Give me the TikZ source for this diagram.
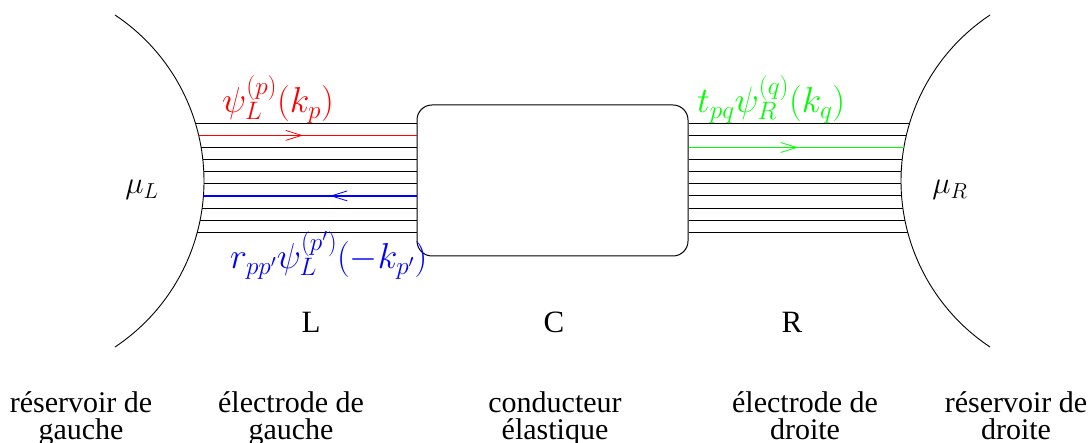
\RequirePackage{fix-cm}
\documentclass[tikz,border=0pt]{standalone}
\usepackage{fontspec}
\setmainfont{Liberation Serif}
\usetikzlibrary{arrows.meta,calc}

\begin{document}
\begin{tikzpicture}[
  x=1pt,
  y=-1pt,
  font=\fontsize{31}{27}\selectfont,
  every node/.style={inner sep=0pt},
  wire/.style={draw=black, line width=0.9pt},
  barb/.style={-{Straight Barb[length=16pt,width=10pt,line width=0.8pt]}},
  wave/.style={anchor=base west, font=\fontsize{36}{36}\selectfont},
  caption/.style={align=center, anchor=north, font=\fontsize{30}{27}\selectfont}
]
  \useasboundingbox (0,0) rectangle (1090,443);

  % reservoirs
  \draw[wire] (4.7,181) ++(56.4:199.3) arc[start angle=56.4, end angle=-56.4, radius=199.3];
  \draw[wire] (1100.3,181) ++(123.6:199.3) arc[start angle=123.6, end angle=236.4, radius=199.3];

  % conductor
  \node[draw, line width=1pt, rounded corners=15pt, minimum width=271pt, minimum height=151pt] (cond) at (552.5,180.5) {};

  % electrode channels
  \foreach \i in {0,...,9} {
    \pgfmathsetmacro\yy{123.3+12.1*\i}
    \pgfmathsetmacro\dx{100*sqrt(1.993^2-((\yy-181)/100)^2)}
    \coordinate (l\i) at ({4.7+\dx},\yy);
    \coordinate (r\i) at ({1100.3-\dx},\yy);
  }
  \foreach \i in {0,2,3,4,5,7,8,9}
    \draw[wire] (l\i) -- (l\i -| cond.west);
  \foreach \i in {0,1,3,4,5,6,7,8,9}
    \draw[wire] (r\i -| cond.east) -- (r\i);

  \draw[red, line width=0.9pt] (l1) -- (l1 -| cond.west);
  \draw[red, barb] (l1) -- (303,135.4);
  \draw[blue, line width=1.6pt] (l6) -- (l6 -| cond.west);
  \draw[blue, barb] (l6 -| cond.west) -- (330,195.9);
  \draw[green, line width=0.9pt] (r2 -| cond.east) -- (r2);
  \draw[green, barb] (r2 -| cond.east) -- (798,147.5);

  % waves
  \node[red, wave] (inc) at (222,113) {$\psi_L^{(p)}(k_p)$};
  \node[blue, wave] (refl) at (230,269) {$r_{pp'}\psi_L^{(p')}(-k_{p'})$};
  \node[green, wave] (trans) at (697,113) {$t_{pq}\psi_R^{(q)}(k_q)$};

  \node (muL) at (142,190) {$\mu_L$};
  \node (muR) at (950,190) {$\mu_R$};

  \node[anchor=base] (regL) at (311,333) {L};
  \node[anchor=base] (regC) at (554,333) {C};
  \node[anchor=base] (regR) at (792,333) {R};

  \node[caption] (capRL) at (81,391) {réservoir de\\gauche};
  \node[caption] (capEL) at (291,391) {électrode de\\gauche};
  \node[caption] (capC) at (555,391) {conducteur\\élastique};
  \node[caption] (capER) at (805,391) {électrode de\\droite};
  \node[caption] (capRR) at (1016,391) {réservoir de\\droite};
\end{tikzpicture}
\end{document}
